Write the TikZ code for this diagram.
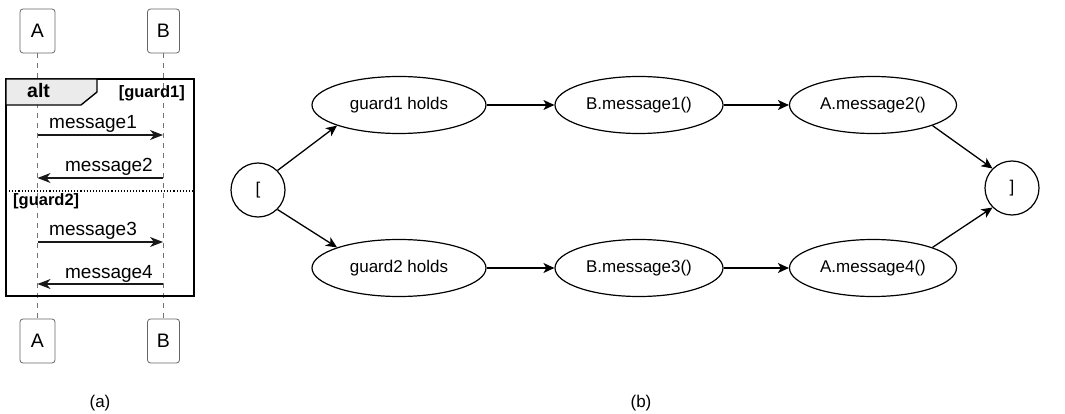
\documentclass[tikz,border=0pt]{standalone}
\usepackage{fontspec}
\setmainfont{Liberation Sans}
\usetikzlibrary{arrows.meta,shapes.geometric}
\begin{document}
\begin{tikzpicture}[x=1pt,y=-1pt,
  actor/.style={draw=black!60, fill=white, rounded corners=3pt, line width=0.8pt,
    minimum height=44pt, inner sep=0pt, font=\fontsize{19.5}{22}\selectfont},
  lifeline/.style={draw=black!55, line width=0.8pt, dash pattern=on 5pt off 5pt},
  msg/.style={draw=black!90, line width=1.4pt,
    -{Stealth[length=13pt,width=10pt,inset=4pt]}},
  msgtext/.style={inner sep=0pt, font=\fontsize{19}{21}\selectfont},
  guardtext/.style={inner sep=0pt, font=\bfseries\fontsize{16.5}{18}\selectfont},
  state/.style={draw, ellipse, line width=1.2pt, minimum width=170pt,
    minimum height=57pt, inner sep=0pt, font=\fontsize{17}{19}\selectfont},
  pseudo/.style={draw, circle, line width=1.2pt, minimum size=54pt,
    inner sep=0pt, font=\fontsize{17}{19}\selectfont},
  flow/.style={line width=1.3pt, -{Stealth[length=11pt,width=10pt,inset=3pt]}},
  caption/.style={font=\fontsize{17}{19}\selectfont}]
\useasboundingbox (0,0) rectangle (1065,414);

% ---------- (a) sequence diagram ----------
\node[actor, minimum width=35pt] (A1) at (37.5,31) {A};
\node[actor, minimum width=32pt] (B1) at (163.5,31) {B};
\node[actor, minimum width=35pt] (A2) at (37.5,341) {A};
\node[actor, minimum width=32pt] (B2) at (163.5,341) {B};
\draw[lifeline] (A1.south) -- (A2.north);
\draw[lifeline] (B1.south) -- (B2.north);

% alt fragment
\draw[line width=2pt] (6,79) rectangle (194,296);
\draw[line width=1.4pt, fill=black!8] (6,79) -- (97,79) -- (97,92) -- (81,105) -- (6,105) -- cycle;
\node[guardtext, font=\bfseries\fontsize{19.5}{21}\selectfont, anchor=base west] (alt) at (27,98) {alt};
\node[guardtext, anchor=base east] (g1txt) at (185,98) {[guard1]};
\draw[line width=1.1pt, dotted] (6,191) -- (194,191);
\node[guardtext, anchor=base west] (g2txt) at (13,206) {[guard2]};

% messages
\coordinate (a1) at (37.5,135); \coordinate (b1) at (163,135);
\coordinate (a2) at (37.5,178); \coordinate (b2) at (163,178);
\coordinate (a3) at (37.5,242); \coordinate (b3) at (163,242);
\coordinate (a4) at (37.5,284); \coordinate (b4) at (163,284);
\draw[msg] (a1) -- (b1);
\draw[msg] (b2) -- (a2);
\draw[msg] (a3) -- (b3);
\draw[msg] (b4) -- (a4);
\node[msgtext, anchor=base west] (t1) at (49,129) {message1};
\node[msgtext, anchor=base east] (t2) at (153,172) {message2};
\node[msgtext, anchor=base west] (t3) at (49,236) {message3};
\node[msgtext, anchor=base east] (t4) at (153,278) {message4};

\node[caption] (capa) at (100,403) {(a)};

% ---------- (b) state graph ----------
\node[pseudo] (start) at (258,190) {[};
\node[state, minimum width=174pt] (g1) at (399,105) {guard1 holds};
\node[state, minimum width=174pt] (g2) at (399,268) {guard2 holds};
\node[state, minimum width=168pt] (m1) at (639,105) {B.message1()};
\node[state, minimum width=168pt] (m3) at (639,268) {B.message3()};
\node[state, minimum width=167pt] (m2) at (873,105) {A.message2()};
\node[state, minimum width=167pt] (m4) at (873,268) {A.message4()};
\node[pseudo] (end) at (1012,188) {]};

\draw[flow] (start.north east) -- (g1.south west);
\draw[flow] (start.south east) -- (g2.north west);
\draw[flow] (g1) -- (m1);
\draw[flow] (m1) -- (m2);
\draw[flow] (g2) -- (m3);
\draw[flow] (m3) -- (m4);
\draw[flow] (m2.south east) -- (end.north west);
\draw[flow] (m4.north east) -- (end.south west);

\node[caption] (capb) at (641,403) {(b)};
\end{tikzpicture}
\end{document}
